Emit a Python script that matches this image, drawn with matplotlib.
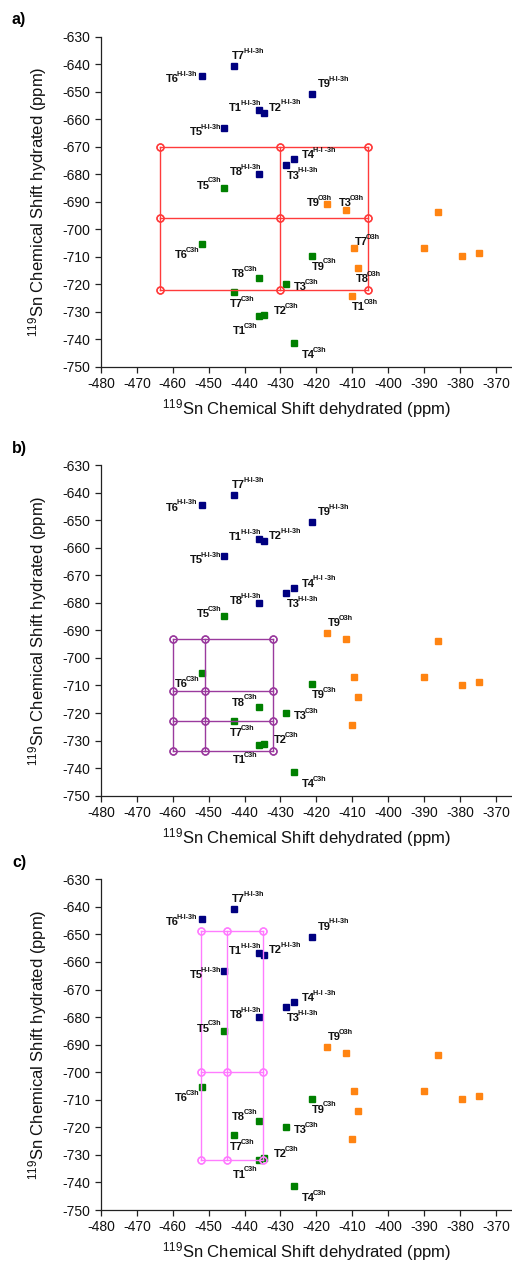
import matplotlib
matplotlib.use('Agg')
import matplotlib.pyplot as plt

plt.rcParams['font.family'] = ['Liberation Sans', 'DejaVu Sans']
plt.rcParams['mathtext.fontset'] = 'custom'
plt.rcParams['mathtext.rm'] = 'Liberation Sans'
plt.rcParams['mathtext.it'] = 'Liberation Sans:italic'
plt.rcParams['mathtext.bf'] = 'Liberation Sans:bold'
plt.rcParams['axes.unicode_minus'] = False

# ---- data: 119Sn shifts (ppm), dehydrated (x) vs hydrated (y) ----
sites = ['T1', 'T2', 'T3', 'T4', 'T5', 'T6', 'T7', 'T8', 'T9']

hi3h_x = [-436.0, -434.6, -428.5, -426.1, -445.6, -451.9, -443.0, -436.1, -421.3]
hi3h_y = [-656.8, -657.6, -676.5, -674.5, -663.2, -644.4, -640.8, -680.1, -650.8]
hi3h_sup = ['H-I-3h', 'H-I-3h', 'H-I-3h', 'H-I -3h', 'H-I-3h',
            'H-I-3h', 'H-I-3h', 'H-I-3h', 'H-I-3h']

c3h_x = [-436.1, -434.6, -428.5, -426.1, -445.6, -451.9, -443.0, -435.9, -421.3]
c3h_y = [-731.7, -731.3, -720.0, -741.3, -684.9, -705.5, -722.9, -717.7, -709.6]
c3h_sup = ['C3h'] * 9

o3h_names = ['T1', 'T2', 'T3', 'T4', 'T5', 'T6', 'T7', 'T8', 'T9']
o3h_x = [-410.0, -386.2, -411.7, -389.9, -379.3, -374.7, -409.4, -408.5, -417.0]
o3h_y = [-724.3, -693.9, -693.0, -706.9, -709.8, -708.8, -707.0, -714.2, -690.9]
o3h_sup = 'O3h'

# boxes drawn in each panel
grid_a_x = [-463.5, -430.0, -405.6]
grid_a_y = [-670.0, -696.0, -722.0]
grid_b_x = [-460.0, -450.9, -432.1]
grid_b_y = [-693.1, -712.1, -722.9, -733.9]
grid_c_x = [-452.1, -445.0, -435.0]
grid_c_y = [-648.9, -700.0, -732.0]

x_ticks = list(range(-480, -369, 10))
y_ticks = list(range(-750, -629, 10))

# ---- label placement (pixel offsets from the marker) ----
hi3h_off = {'T1': (-30, -1), 'T2': (5, 2), 'T3': (1, -14), 'T4': (7, 1),
            'T5': (-35, -7), 'T6': (-36, -6), 'T7': (-2, 7), 'T8': (-29, -1),
            'T9': (6, 7)}
c3h_off = {'T1': (-26, -18), 'T2': (10, 1), 'T3': (8, -6), 'T4': (7, -15),
           'T5': (-28, -1), 'T6': (-27, -14), 'T7': (-4, -15), 'T8': (-27, 1),
           'T9': (0, -14)}
o3h_off_a = {'T1': (0, -14), 'T3': (-7, 4), 'T7': (0, 3), 'T8': (-2, -14),
             'T9': (-20, -2)}
o3h_off_bc = {'T9': (1, 7)}

NAVY = '#000080'
GREEN = '#008000'
ORANGE = '#FF8412'

W, H = 512, 1270
AX_LEFT = 101
fig = plt.figure(figsize=(W / 100, H / 100), dpi=100)


def label(ax, x, y, main, sup, off):
    t = ax.annotate(main, xy=(x, y), xytext=off, textcoords='offset pixels',
                    ha='left', va='baseline', fontsize=8, fontweight='bold',
                    color='#111111', zorder=6)
    ax.annotate(sup, xy=(1, 0), xycoords=t, xytext=(-1.8, 8.2),
                textcoords='offset pixels', ha='left', va='baseline',
                fontsize=5.2, fontweight='bold', color='#111111', zorder=6)


def draw_grid(ax, gx, gy, color):
    kw = dict(color=color, lw=1.0, marker='o', ms=5, mfc='none', mec=color,
              mew=1.0, zorder=4)
    for yv in gy:
        ax.plot(gx, [yv] * len(gx), **kw)
    for xv in gx:
        ax.plot([xv] * len(gy), gy, **kw)


def panel(top_px, bot_px, letter, gx, gy, gcolor, o_offsets):
    height_px = bot_px - top_px
    ax = fig.add_axes([AX_LEFT / W, 1 - bot_px / H, (W - AX_LEFT) / W,
                       height_px / H])
    ax.set_xlim(-480, -365.5)
    ax.set_ylim(-750, -630)
    for s in ('top', 'right'):
        ax.spines[s].set_visible(False)
    for s in ('left', 'bottom'):
        ax.spines[s].set_linewidth(0.9)
        ax.spines[s].set_color('#222222')
    ax.set_xticks(x_ticks)
    ax.set_yticks(y_ticks)
    ax.tick_params(direction='out', length=4.3, width=0.9, color='#222222',
                   labelsize=10, labelcolor='#111111')
    ax.tick_params(axis='y', pad=3.6)
    ax.tick_params(axis='x', pad=2.9)

    ax.plot(hi3h_x, hi3h_y, 's', color=NAVY, ms=4.5, zorder=3)
    ax.plot(c3h_x, c3h_y, 's', color=GREEN, ms=4.5, zorder=3)
    ax.plot(o3h_x, o3h_y, 's', color=ORANGE, ms=4.5, zorder=3)

    for i, s in enumerate(sites):
        label(ax, hi3h_x[i], hi3h_y[i], s, hi3h_sup[i], hi3h_off[s])
        label(ax, c3h_x[i], c3h_y[i], s, c3h_sup[i], c3h_off[s])
    for i, s in enumerate(o3h_names):
        if s in o_offsets:
            label(ax, o3h_x[i], o3h_y[i], s, o3h_sup, o_offsets[s])

    draw_grid(ax, gx, gy, gcolor)

    ax.set_xlabel(r'$^{119}$Sn Chemical Shift dehydrated (ppm)', fontsize=12,
                  va='center', color='#111111')
    ax.xaxis.set_label_coords(0.5, -42.0 / height_px)
    ax.set_ylabel(r'$^{119}$Sn Chemical Shift hydrated (ppm)', fontsize=12,
                  va='center', color='#111111')
    ax.yaxis.set_label_coords((38 - AX_LEFT) / (W - AX_LEFT), 0.5)

    fig.text(12 / W, 1 - (top_px - 17) / H, letter, fontsize=11.5,
             fontweight='bold', ha='left', va='center')
    return ax


panel(36.7, 366.7, 'a)', grid_a_x, grid_a_y, '#FF3B3B', o3h_off_a)
panel(465.0, 795.7, 'b)', grid_b_x, grid_b_y, '#9A3A9E', o3h_off_bc)
panel(879.3, 1210.0, 'c)', grid_c_x, grid_c_y, '#FF7CFF', o3h_off_bc)

fig.savefig('out.png', dpi=100)
